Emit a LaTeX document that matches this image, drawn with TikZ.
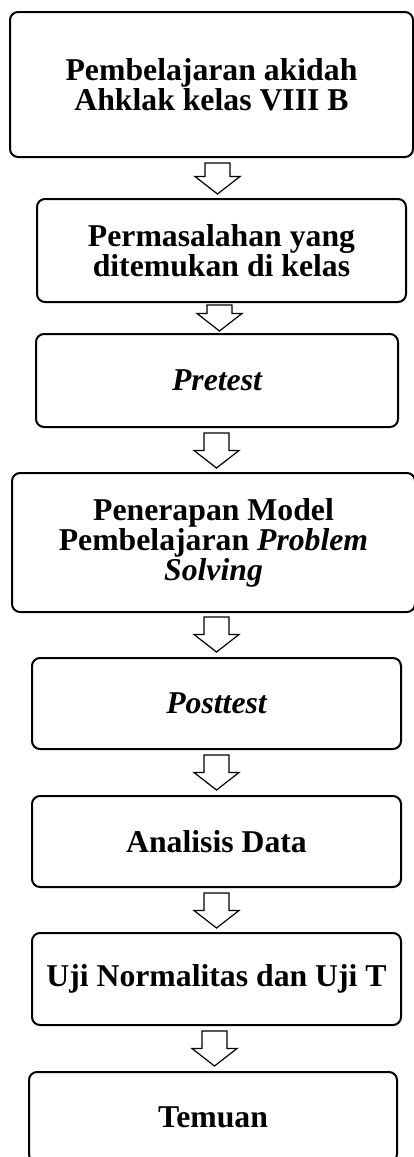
\documentclass[tikz,border=0pt]{standalone}
\usepackage{fontspec}
\setmainfont{Liberation Serif}
\newcommand\blockarr[4]{% name, x, ytop, length (px)
  \coordinate (#1) at (#2,#3);
  \draw[arr] (#2-12.5,#3) -- (#2+12.5,#3) -- (#2+12.5,#3+#4-17.5) -- (#2+22.5,#3+#4-17.5)
    -- (#2,#3+#4) -- (#2-22.5,#3+#4-17.5) -- (#2-12.5,#3+#4-17.5) -- cycle;}
\begin{document}
\begin{tikzpicture}[x=0.75pt,y=-0.75pt,
 box/.style={draw,line width=1.5pt,rounded corners=6pt,align=center,inner sep=0pt,font=\fontsize{23.8}{22.5}\selectfont\bfseries},
 arr/.style={draw,line width=0.9pt,line join=miter,fill=white}]
\useasboundingbox (0,0) rectangle (414,1157);
\node[box,minimum width=302.25pt,minimum height=108.75pt] (b1) at (211.5,84.5) {Pembelajaran akidah\\Ahklak kelas VIII B};
\node[box,minimum width=276.75pt,minimum height=77.25pt] (b2) at (221.5,250.5) {Permasalahan yang\\ditemukan di kelas};
\node[box,minimum width=271.5pt,minimum height=69.75pt] (b3) at (217,380.5) {\itshape Pretest};
\node[box,minimum width=302.25pt,minimum height=104.25pt] (b4) at (213.5,542.5) {Penerapan Model\\Pembelajaran \textit{Problem}\\\textit{Solving}};
\node[box,minimum width=276.75pt,minimum height=68.25pt] (b5) at (216.5,703.5) {\itshape Posttest};
\node[box,minimum width=276.75pt,minimum height=68.25pt] (b6) at (216.5,841.5) {Analisis Data};
\node[box,minimum width=276.75pt,minimum height=69pt] (b7) at (216.5,979) {Uji Normalitas dan Uji T};
\node[box,minimum width=276pt,minimum height=67.5pt] (b8) at (213,1117) {Temuan};
\blockarr{a1}{217.5}{163}{31}
\blockarr{a2}{219.5}{305}{26}
\blockarr{a3}{216.5}{433}{35}
\blockarr{a4}{216.5}{617}{35}
\blockarr{a5}{216.5}{755}{35}
\blockarr{a6}{216.5}{893}{35}
\blockarr{a7}{214.5}{1031}{35}
\end{tikzpicture}
\end{document}
